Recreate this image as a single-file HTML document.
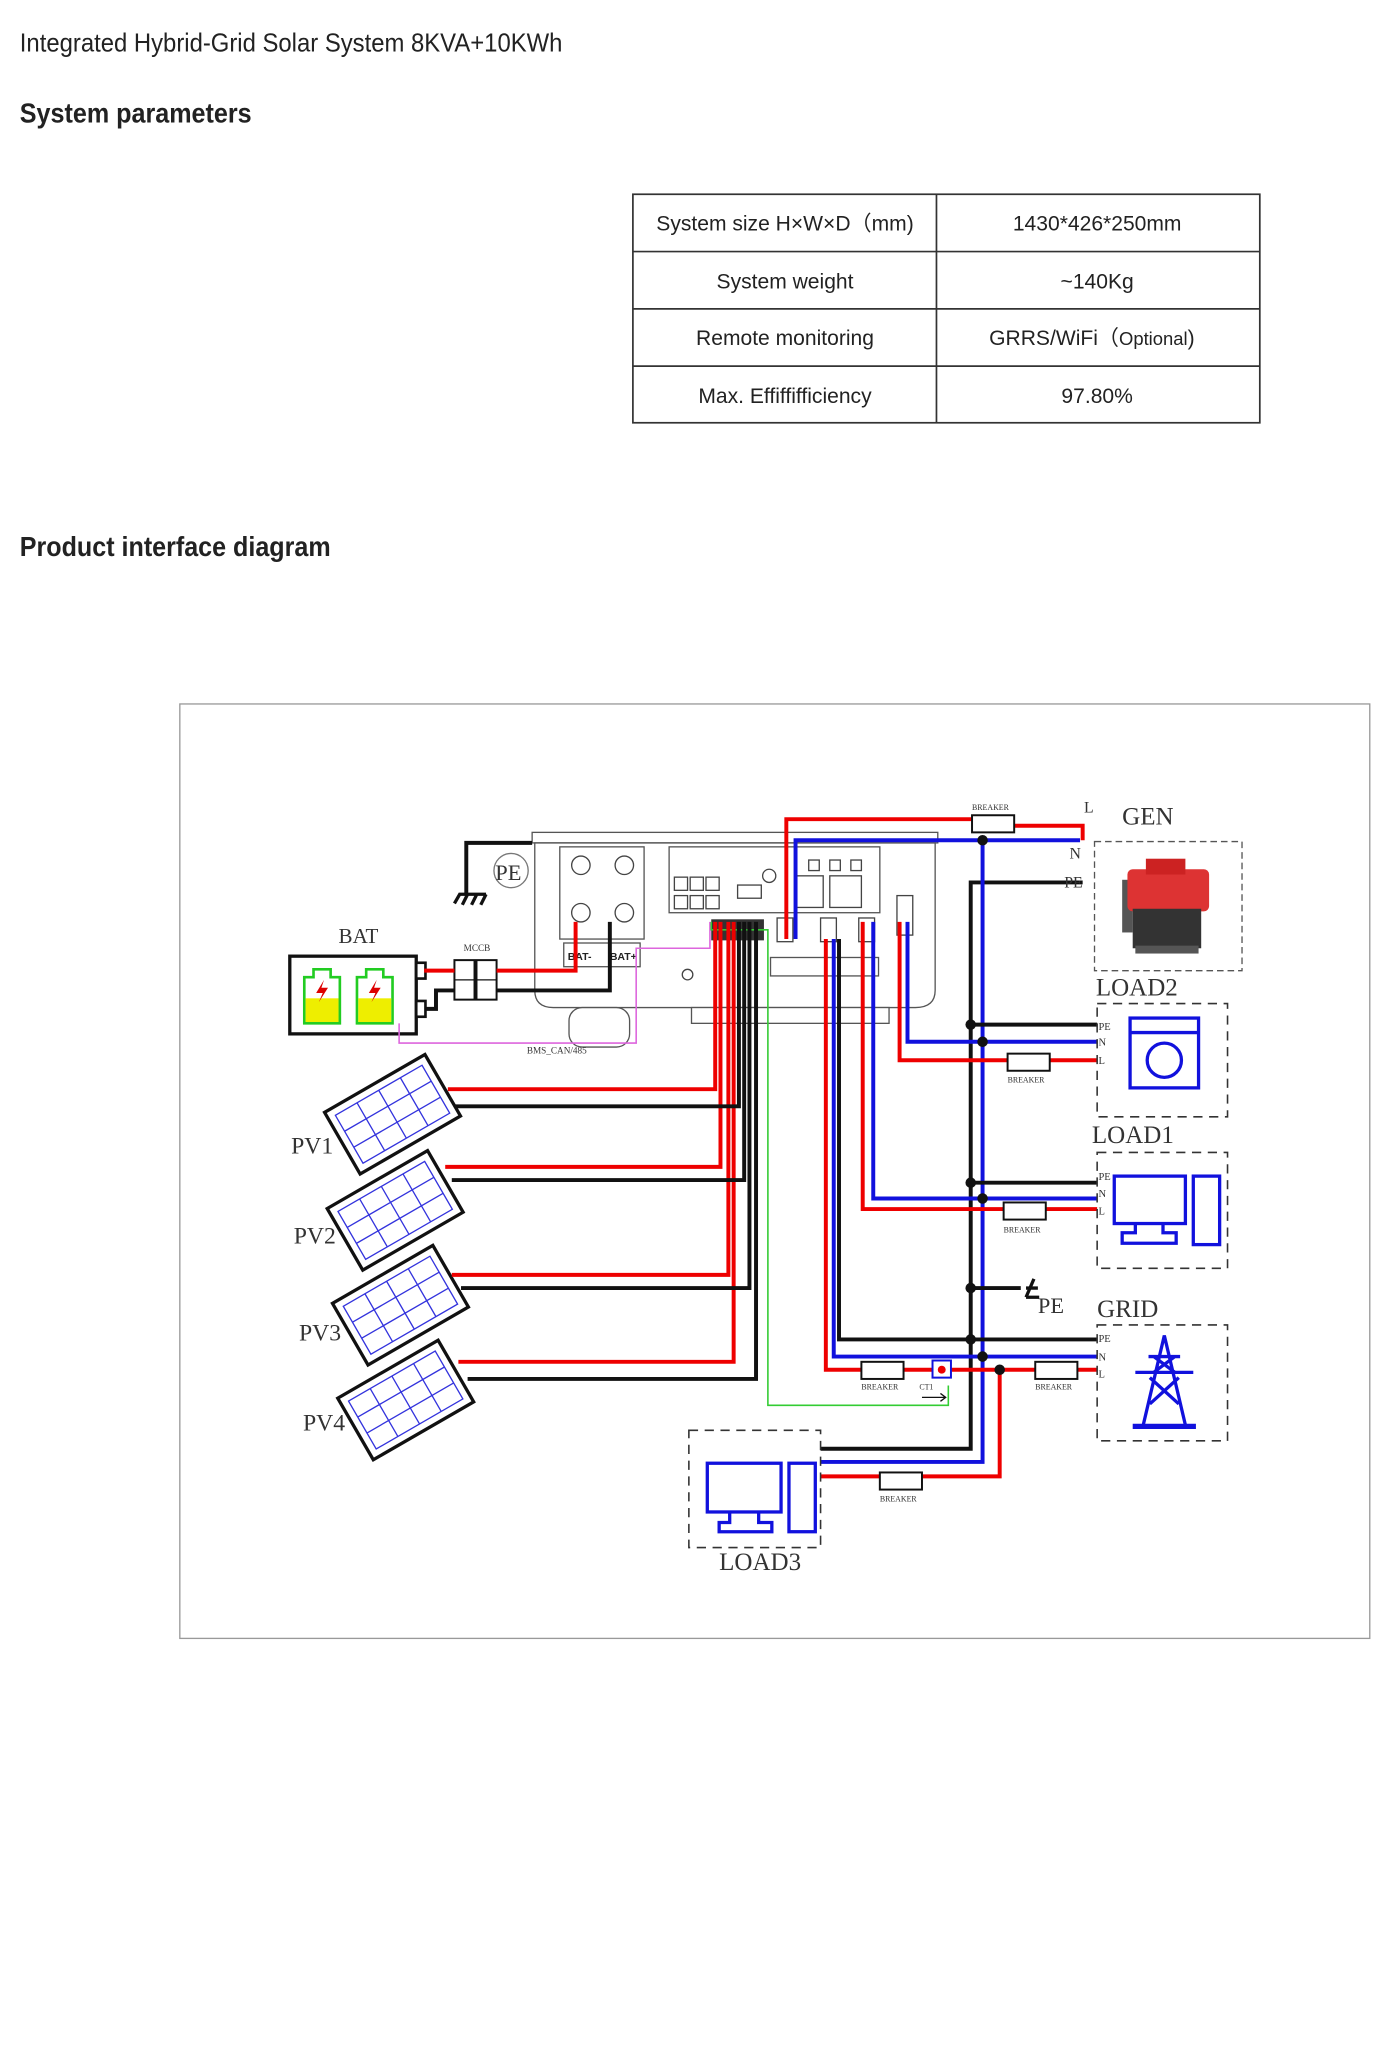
<!DOCTYPE html>
<html><head><meta charset="utf-8"><style>
html,body{margin:0;padding:0;background:#fff;width:1383px;height:2048px;overflow:hidden}
svg{display:block}
.t{font-family:"Liberation Sans Narrow","Liberation Sans",sans-serif;fill:#222}
.s{font-family:"Liberation Serif",serif;fill:#333}
</style></head><body>
<svg width="1383" height="2048" viewBox="0 0 1050 1555" xmlns="http://www.w3.org/2000/svg">
<text class="t" x="15" y="39" font-size="20" textLength="412" lengthAdjust="spacingAndGlyphs">Integrated Hybrid-Grid Solar System 8KVA+10KWh</text>
<text class="t" x="15" y="93" font-size="21" font-weight="bold" textLength="176" lengthAdjust="spacingAndGlyphs">System parameters</text>
<text class="t" x="15" y="422" font-size="21" font-weight="bold" textLength="236" lengthAdjust="spacingAndGlyphs">Product interface diagram</text>
<!-- table -->
<g stroke="#333" stroke-width="1.3" fill="none">
<rect x="480.5" y="147.5" width="476" height="173.5"/>
<line x1="711" y1="147.5" x2="711" y2="321"/>
<line x1="480.5" y1="191" x2="956.5" y2="191"/>
<line x1="480.5" y1="234.5" x2="956.5" y2="234.5"/>
<line x1="480.5" y1="278" x2="956.5" y2="278"/>
</g>
<g class="t" font-size="16" text-anchor="middle">
<text x="596" y="175">System size H×W×D（mm)</text>
<text x="833" y="175">1430*426*250mm</text>
<text x="596" y="219">System weight</text>
<text x="833" y="219">~140Kg</text>
<text x="596" y="262">Remote monitoring</text>
<text x="829" y="262">GRRS/WiFi（<tspan font-size="14">Optional</tspan>)</text>
<text x="596" y="306">Max. Effiffifficiency</text>
<text x="833" y="306">97.80%</text>
</g>
<!-- diagram frame -->
<rect x="136.5" y="534.5" width="903.5" height="709.5" fill="none" stroke="#999" stroke-width="1"/>
<!-- inverter -->
<g stroke="#555" stroke-width="1" fill="#fff">
<rect x="404" y="632" width="308" height="8"/>
<path d="M406 640 H710 V752 Q710 765 695 765 H420 Q406 765 406 752 Z"/>
<rect x="425" y="643" width="64" height="70"/>
<rect x="508" y="643" width="160" height="50"/>
<rect x="428" y="716" width="58" height="18"/>
<rect x="585" y="727" width="82" height="14"/>
<rect x="432" y="765" width="46" height="30" rx="10"/>
<rect x="525" y="765" width="150" height="12"/>
</g>
<g fill="none" stroke="#444" stroke-width="1">
<circle cx="441" cy="657" r="7"/><circle cx="474" cy="657" r="7"/>
<circle cx="441" cy="693" r="7"/><circle cx="474" cy="693" r="7"/>
<circle cx="522" cy="740" r="4"/>
<rect x="614" y="653" width="8" height="8"/><rect x="630" y="653" width="8" height="8"/><rect x="646" y="653" width="8" height="8"/>
<rect x="605" y="665" width="20" height="24"/><rect x="630" y="665" width="24" height="24"/>
<rect x="512" y="666" width="10" height="10"/><rect x="524" y="666" width="10" height="10"/><rect x="536" y="666" width="10" height="10"/>
<rect x="512" y="680" width="10" height="10"/><rect x="524" y="680" width="10" height="10"/><rect x="536" y="680" width="10" height="10"/>
<rect x="560" y="672" width="18" height="10"/>
<circle cx="584" cy="665" r="5"/>
<rect x="590" y="697" width="12" height="18"/><rect x="623" y="697" width="12" height="18"/><rect x="652" y="697" width="12" height="18"/><rect x="681" y="680" width="12" height="30"/>
</g>
<g font-family="Liberation Sans,sans-serif" font-size="8" font-weight="bold" fill="#222">
<text x="431" y="729">BAT-</text><text x="463" y="729">BAT+</text>
</g>
<rect x="540" y="698" width="40" height="16" fill="#333"/>
<!-- PE circle + ground -->
<circle cx="388" cy="661" r="13" fill="#fff" stroke="#777"/>
<text class="s" x="376" y="668" font-size="17">PE</text>
<path d="M404 640 H354 V680" fill="none" stroke="#111" stroke-width="3"/>
<path d="M345 686 L349 679 H369 M355 679 L351 687 M362 679 L358 687 M369 679 L365 687" fill="none" stroke="#111" stroke-width="2.5"/>
<!-- battery -->
<text class="s" x="257" y="716" font-size="16">BAT</text>
<rect x="220" y="726" width="96" height="59" fill="#fff" stroke="#111" stroke-width="2.5"/>
<rect x="316" y="731" width="7" height="12" fill="#fff" stroke="#111" stroke-width="2"/>
<rect x="316" y="760" width="7" height="12" fill="#fff" stroke="#111" stroke-width="2"/>
<g stroke="#2c2" stroke-width="2" fill="#fff">
<path d="M231 742 H238 V736 H251 V742 H258 V777 H231 Z"/>
<path d="M271 742 H278 V736 H291 V742 H298 V777 H271 Z"/>
</g>
<rect x="232" y="758" width="25" height="18" fill="#ee0"/><rect x="272" y="758" width="25" height="18" fill="#ee0"/>
<path d="M246 744 L240 754 H245 L242 761 L249 750 H244 Z M286 744 L280 754 H285 L282 761 L289 750 H284 Z" fill="#d00"/>
<!-- MCCB -->
<text class="s" x="352" y="722" font-size="7">MCCB</text>
<rect x="345" y="729" width="32" height="30" fill="#fff" stroke="#111" stroke-width="1.5"/>
<line x1="361" y1="729" x2="361" y2="759" stroke="#111" stroke-width="3"/>
<line x1="345" y1="744" x2="377" y2="744" stroke="#111"/>
<!-- battery wires -->
<g fill="none" stroke-width="3">
<path d="M322 737 H345 M377 737 H437 V700" stroke="#e00"/>
<path d="M323 766 H331 V752 H345 M377 752 H463 V700" stroke="#111"/>
</g>
<path d="M303 777 V792 H483 V720 H539 V700" fill="none" stroke="#d6d" stroke-width="1.2"/>
<text class="s" x="400" y="800" font-size="7">BMS_CAN/485</text>
<!-- green CT line -->
<path d="M540 700 V706 H583 V1067 H720 V1052" fill="none" stroke="#3c3" stroke-width="1.2"/>
<!-- PV panels -->
<g stroke="#111" stroke-width="2.5" fill="#fff">
<g transform="translate(298,846) rotate(-30)"><rect x="-44" y="-27" width="88" height="54"/></g>
<g transform="translate(300,919) rotate(-30)"><rect x="-44" y="-27" width="88" height="54"/></g>
<g transform="translate(304,991) rotate(-30)"><rect x="-44" y="-27" width="88" height="54"/></g>
<g transform="translate(308,1063) rotate(-30)"><rect x="-44" y="-27" width="88" height="54"/></g>
</g>
<g stroke="#33d" stroke-width="1" fill="none">
<g transform="translate(298,846) rotate(-30)"><path d="M-38 -21 H38 V21 H-38 Z M-19 -21 V21 M0 -21 V21 M19 -21 V21 M-38 -7 H38 M-38 7 H38"/></g>
<g transform="translate(300,919) rotate(-30)"><path d="M-38 -21 H38 V21 H-38 Z M-19 -21 V21 M0 -21 V21 M19 -21 V21 M-38 -7 H38 M-38 7 H38"/></g>
<g transform="translate(304,991) rotate(-30)"><path d="M-38 -21 H38 V21 H-38 Z M-19 -21 V21 M0 -21 V21 M19 -21 V21 M-38 -7 H38 M-38 7 H38"/></g>
<g transform="translate(308,1063) rotate(-30)"><path d="M-38 -21 H38 V21 H-38 Z M-19 -21 V21 M0 -21 V21 M19 -21 V21 M-38 -7 H38 M-38 7 H38"/></g>
</g>
<g class="s" font-size="18"><text x="221" y="876">PV1</text><text x="223" y="944">PV2</text><text x="227" y="1018">PV3</text><text x="230" y="1086">PV4</text></g>
<!-- PV wires -->
<g fill="none" stroke-width="3">
<path d="M340 827 H543 V700 M338 886 H547 V700 M343 968 H553 V700 M348 1034 H557 V700" stroke="#e00"/>
<path d="M345 840 H561 V700 M343 896 H565 V700 M350 978 H569 V700 M355 1047 H574 V700" stroke="#111"/>
</g>
<!-- AC wires -->
<g fill="none" stroke-width="3">
<path d="M597 713 V622 H738 M770 627 H822 V638" stroke="#e00"/>
<path d="M604 713 V638 H820" stroke="#11d"/>
<path d="M822 670 H737 V1100 H623" stroke="#111"/>
<path d="M746 638 V1110 H623" stroke="#11d"/>
<path d="M737 778 H833 M737 898 H833 M637 713 V1017 H833 M737 978 H775" stroke="#111"/>
<path d="M689 700 V791 H833 M663 700 V910 H833 M633 713 V1030 H833" stroke="#11d"/>
<path d="M683 700 V805 H833 M655 700 V918 H833 M627 713 V1040 H833 M759 1040 V1121 H623" stroke="#e00"/>
</g>
<path d="M785 971 L779 985 M779 978 H788 M779 985 H789" stroke="#111" stroke-width="2.5" fill="none"/>
<text class="s" x="788" y="997" font-size="17">PE</text>
<g fill="#111"><circle cx="746" cy="638" r="4"/><circle cx="737" cy="778" r="4"/><circle cx="746" cy="791" r="4"/><circle cx="737" cy="898" r="4"/><circle cx="746" cy="910" r="4"/><circle cx="737" cy="978" r="4"/><circle cx="737" cy="1017" r="4"/><circle cx="746" cy="1030" r="4"/><circle cx="759" cy="1040" r="4"/></g>
<!-- breakers -->
<g fill="#fff" stroke="#111" stroke-width="1.5">
<rect x="738" y="619" width="32" height="13"/><rect x="765" y="800" width="32" height="13"/><rect x="762" y="913" width="32" height="13"/>
<rect x="654" y="1034" width="32" height="13"/><rect x="786" y="1034" width="32" height="13"/><rect x="668" y="1118" width="32" height="13"/>
<rect x="708" y="1033" width="14" height="13" stroke="#11d"/>
</g>
<circle cx="715" cy="1040" r="3" fill="#e00"/>
<g class="s" font-size="6"><text x="738" y="615">BREAKER</text><text x="765" y="822">BREAKER</text><text x="762" y="936">BREAKER</text><text x="654" y="1055">BREAKER</text><text x="786" y="1055">BREAKER</text><text x="668" y="1140">BREAKER</text><text x="698" y="1055">CT1</text></g>
<path d="M700 1061 H718 M714 1058 L718 1061 L714 1064" stroke="#111" fill="none"/>
<g class="s" font-size="12"><text x="823" y="617">L</text><text x="812" y="652">N</text><text x="808" y="674">PE</text></g>
<!-- generator -->
<text class="s" x="852" y="626" font-size="19">GEN</text>
<rect x="831" y="639" width="112" height="98" fill="none" stroke="#555" stroke-dasharray="5,3"/>
<rect x="852" y="668" width="8" height="40" fill="#555"/>
<rect x="856" y="660" width="62" height="32" rx="4" fill="#d33"/>
<rect x="870" y="652" width="30" height="12" fill="#c22"/>
<rect x="860" y="690" width="52" height="30" fill="#333"/>
<rect x="862" y="718" width="48" height="6" fill="#555"/>
<!-- loads -->
<g fill="none" stroke="#333" stroke-dasharray="7,5" stroke-width="1.2">
<rect x="833" y="762" width="99" height="86"/><rect x="833" y="875" width="99" height="88"/><rect x="833" y="1006" width="99" height="88"/><rect x="523" y="1086" width="100" height="89"/>
</g>
<g class="s" font-size="19"><text x="832" y="756">LOAD2</text><text x="829" y="868">LOAD1</text><text x="833" y="1000">GRID</text><text x="546" y="1192">LOAD3</text></g>
<g class="s" font-size="8"><text x="834" y="782">PE</text><text x="834" y="794">N</text><text x="834" y="808">L</text><text x="834" y="896">PE</text><text x="834" y="909">N</text><text x="834" y="922">L</text><text x="834" y="1019">PE</text><text x="834" y="1033">N</text><text x="834" y="1046">L</text></g>
<g fill="none" stroke="#11d" stroke-width="2.5">
<rect x="858" y="773" width="52" height="53"/><line x1="858" y1="784" x2="910" y2="784"/><circle cx="884" cy="805" r="13"/>
<rect x="846" y="893" width="54" height="36"/><path d="M862 929 V936 H852 V944 H893 V936 H883 V929"/><rect x="906" y="893" width="20" height="52"/>
<rect x="537" y="1111" width="56" height="37"/><path d="M554 1148 V1156 H546 V1163 H586 V1156 H576 V1148"/><rect x="599" y="1111" width="20" height="52"/>
<path d="M868 1082 L884 1014 L900 1082 M872 1030 H896 M862 1042 H906 M873 1046 L895 1066 M895 1046 L873 1066 M876 1030 L892 1042 M892 1030 L876 1042"/>
<line x1="860" y1="1083" x2="908" y2="1083" stroke-width="4"/>
</g>
</svg>
</body></html>
